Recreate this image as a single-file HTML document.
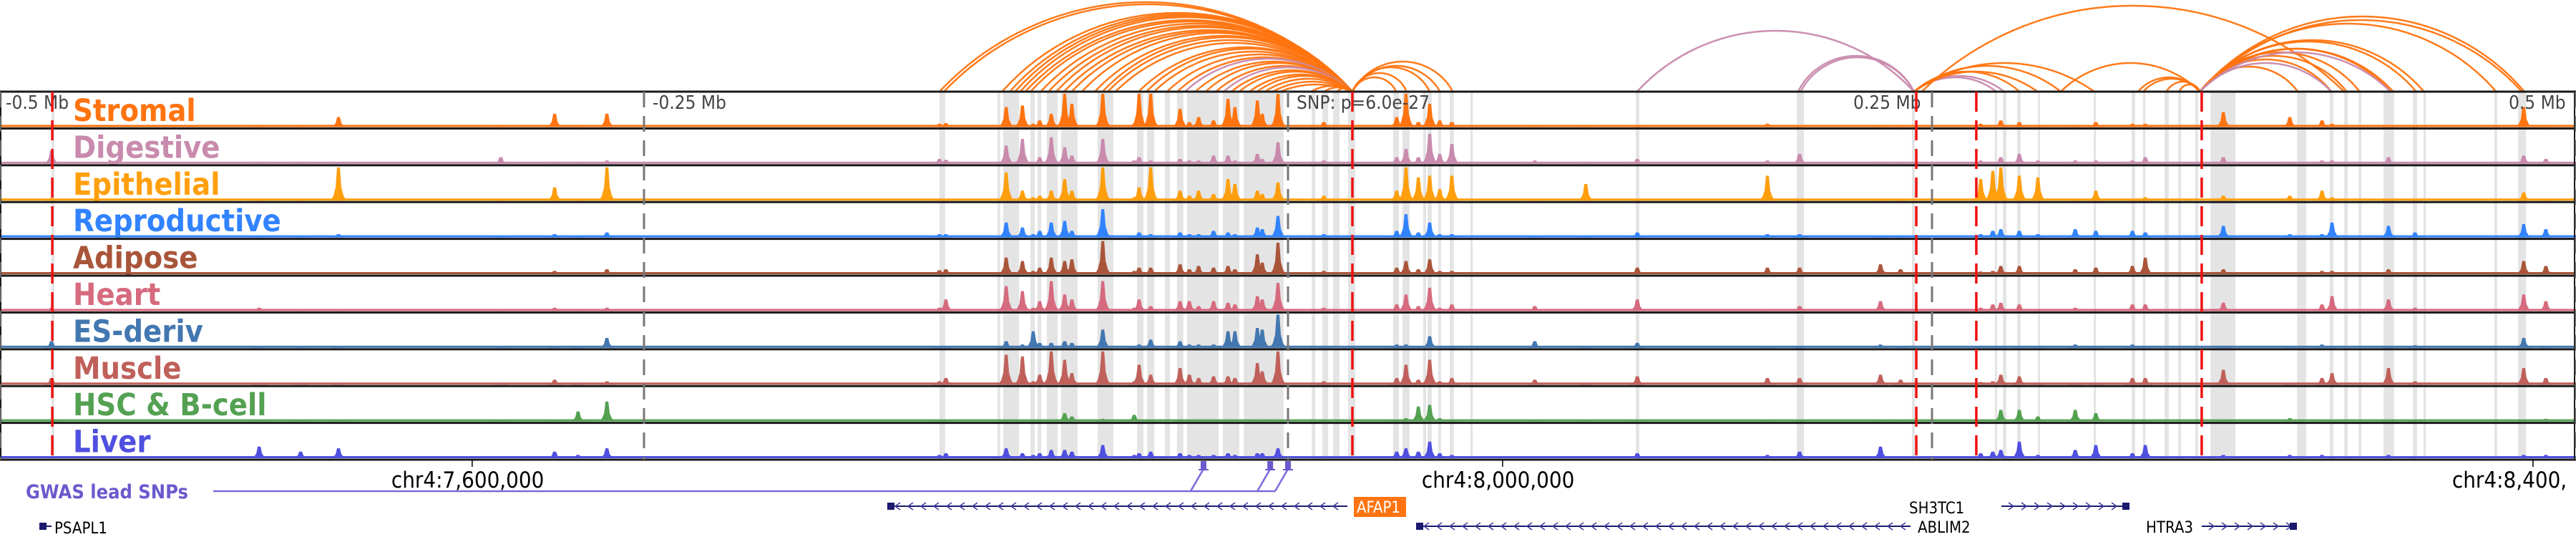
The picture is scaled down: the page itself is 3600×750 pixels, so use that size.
<!DOCTYPE html>
<html><head><meta charset="utf-8">
<style>
html,body{margin:0;padding:0;background:#fff;}
svg{display:block;}
text{font-family:"DejaVu Sans Condensed","DejaVu Sans","Liberation Sans",sans-serif;}
</style></head>
<body>
<svg id="chart" width="3600" height="750" viewBox="0 0 3600 750" xmlns="http://www.w3.org/2000/svg">
<g id="arcs"></g>
<g id="bands"></g>
<g id="tracks"></g>
<g id="overlay"></g>
<g id="bottom"></g>
</svg>
<script>
// ---- data ----
const trackNames = ["Stromal","Digestive","Epithelial","Reproductive","Adipose","Heart","ES-deriv","Muscle","HSC & B-cell","Liver"];
const trackColors = ["#ff7410","#c88aad","#ff9f0e","#3183ff","#a9553a","#d66a7e","#4377b0","#c0605a","#54a152","#4f4fe0"];
const peakKb = [-480,-399.4,-383.3,-368.6,-305.6,-284.7,-275.6,-264.4,-135.3,-132.8,-109.4,-103.1,-98.9,-96.4,-91.9,-86.7,-83.9,-71.9,-59.7,-57.8,-53.3,-41.9,-38.3,-34.7,-28.9,-23.3,-20.6,-11.9,-10.0,-3.9,13.9,42.2,45.8,50.6,55.0,58.9,63.6,95.8,115.6,135.6,186.1,198.6,230.0,237.8,268.9,273.6,276.7,283.9,291.1,305.6,313.6,327.8,332.8,363.1,388.9,401.4,405.3,427.2,437.5,479.7,488.3];
const peakHeights = [
[.05,.4,.08,.05,.05,.1,.2,.2,.03,.05],
[.05,.03,.05,.05,.05,.1,.05,.05,.03,.35],
[.03,.03,.03,.03,.03,.03,.03,.03,.03,.2],
[.3,.05,1,.1,.05,.03,.05,.03,.05,.3],
[.03,.2,.03,.03,.03,.03,.03,.03,.03,.05],
[.4,.05,.4,.1,.1,.1,.05,.15,.05,.2],
[.05,.03,.05,.03,.03,.03,.03,.03,.3,.1],
[.4,.1,1,.15,.15,.1,.3,.1,.6,.3],
[.1,.15,.05,.1,.12,.1,.05,.1,.03,.1],
[.12,.12,.05,.1,.15,.35,.05,.2,.03,.15],
[.6,.55,.85,.45,.5,.75,.2,.9,.05,.3],
[.65,.75,.3,.3,.4,.6,.1,.85,.05,.15],
[.1,.05,.1,.1,.1,.1,.5,.1,.03,.1],
[.2,.2,.15,.2,.2,.3,.15,.3,.03,.15],
[.4,.8,.3,.45,.5,.9,.15,1,.05,.25],
[1,.5,.65,.5,.4,.5,.2,.75,.25,.25],
[.7,.25,.3,.2,.45,.35,.15,.35,.15,.2],
[1,.75,1,.85,1,.9,.55,1,.08,.4],
[.1,.1,.1,.05,.1,.1,.05,.1,.2,.1],
[1,.2,.4,.15,.2,.35,.1,.6,.05,.15],
[1,.1,1,.1,.2,.15,.25,.3,.03,.2],
[.55,.15,.3,.15,.3,.3,.2,.5,.03,.15],
[.15,.1,.15,.1,.15,.3,.1,.3,.03,.1],
[.3,.1,.3,.1,.25,.15,.1,.2,.03,.1],
[.2,.25,.2,.2,.2,.3,.1,.25,.03,.1],
[.85,.25,.65,.15,.25,.25,.5,.25,.03,.15],
[.6,.1,.5,.1,.15,.2,.5,.2,.03,.1],
[.8,.3,.3,.3,.6,.45,.6,.65,.03,.15],
[.4,.15,.2,.25,.35,.35,.55,.4,.03,.15],
[1,.65,.55,.65,.95,.85,1,1,.05,.3],
[.15,.1,.15,.1,.1,.1,.05,.1,.03,.05],
[.3,.2,.3,.2,.2,.2,.1,.2,.05,.2],
[1,.45,1,.7,.4,.5,.1,.6,.1,.3],
[.15,.2,.7,.15,.15,.15,.05,.15,.45,.2],
[.7,.9,.75,.45,.45,.7,.35,.75,.5,.5],
[.2,.3,.35,.1,.1,.1,.05,.1,.1,.15],
[.15,.6,.75,.1,.1,.2,.05,.2,.03,.1],
[.03,.1,.03,.03,.03,.15,.2,.15,.03,.05],
[.03,.03,.5,.03,.03,.03,.03,.03,.03,.03],
[.05,.15,.03,.15,.2,.35,.15,.25,.03,.15],
[.1,.1,.75,.1,.2,.05,.03,.2,.03,.1],
[.03,.3,.03,.1,.2,.15,.05,.2,.03,.2],
[.03,.05,.03,.05,.3,.3,.1,.3,.03,.35],
[.03,.03,.03,.03,.15,.03,.03,.15,.03,.05],
[.1,.1,.65,.1,.08,.1,.03,.08,.03,.15],
[.05,.05,.9,.2,.1,.2,.03,.1,.03,.2],
[.2,.2,1,.25,.25,.25,.05,.3,.35,.25],
[.15,.3,.75,.2,.25,.2,.05,.25,.35,.5],
[.05,.1,.7,.1,.05,.05,.03,.05,.15,.1],
[.05,.1,.05,.25,.15,.1,.1,.05,.35,.25],
[.15,.1,.3,.2,.2,.05,.05,.05,.25,.4],
[.1,.1,.05,.2,.25,.2,.1,.2,.05,.15],
[.1,.2,.1,.15,.5,.2,.05,.2,.05,.4],
[.45,.2,.15,.35,.15,.25,.05,.45,.05,.1],
[.3,.05,.15,.1,.05,.05,.03,.05,.1,.1],
[.2,.1,.3,.1,.1,.2,.1,.2,.05,.1],
[.1,.1,.1,.45,.1,.45,.03,.35,.03,.05],
[.05,.2,.05,.35,.15,.35,.03,.5,.03,.1],
[.03,.03,.03,.15,.05,.1,.08,.1,.03,.05],
[.6,.25,.25,.4,.4,.5,.3,.5,.05,.1],
[.05,.15,.05,.25,.25,.3,.03,.2,.08,.1]
];
const bandStartKb = [-480,-135.3,-112.8,-110.6,-100,-97.2,-93.6,-88.1,-73.9,-58.6,-54.7,-47.8,-43.1,-39.2,-25.3,-17.2,9.2,13.3,17.5,23.3,40.8,44.4,52.5,54.2,58.3,62.8,70.8,135,197.5,242.2,274.4,277.5,283.1,291.1,312.8,327.5,331.9,340.3,345.6,352.2,358.1,391.7,404.4,410,415.6,425.3,436.7,440.8,468.3,477.5];
const bandEndKb = [-478.9,-133.1,-111.7,-104.4,-98.3,-95.8,-89.4,-81.7,-67.8,-56.1,-51.9,-45.8,-40.6,-26.9,-18.9,-1.7,10.6,15.6,20,26.1,43.1,47.2,53.6,55.8,59.4,64.4,71.7,136.4,200.3,243.3,275.3,278.9,284.4,291.7,313.6,328.9,332.8,341.9,346.7,353.3,367.8,395.3,405.8,411.4,416.7,429.4,438.3,441.7,469.4,480.6];
// arcs: left kb, right kb, height px, tissue (0 stromal, 1 digestive)
const arcLeftKb  = [-135.3,-133.6,-111,-108,-106,-104,-102,-100,-96,-93,-90,-87,-84,-80,-75,-72,-70,-67,-58,-55,-52,-47,-43,-40,-36,-32,-28,-25,-22,-19,-15,-12,-9,-6,-3,9,14,19,25,25,25,25,25,135.5,198,199,243,243,243,243,243,243,246,300,330,332,341,346,354,354,354,354,354,354,354,354,354,354,354,354,354];
const arcRightKb = [25,25,25,25,25,25,25,25,25,25,25,25,25,25,25,25,25,25,25,25,25,25,25,25,25,25,25,25,25,25,25,25,25,25,25,25,25,25,42,46,55,59,64,243,243,243,275,278,284,291,313,300,410,354,354,354,354,354,392,405,411,416,428,429,438,441,469,479,480,405,428];
const arcHeight  = [125,122,110,108,106,104,100,98,95,92,90,86,84,82,78,76,72,68,62,60,56,52,48,46,42,40,36,34,30,28,24,22,18,14,10,8,6,5,20,26,34,36,42,85,50,48,20,22,28,28,40,36,120,40,20,18,14,10,35,45,50,55,60,60,70,72,95,100,105,40,55];
const arcTissue  = [0,0,0,0,0,0,0,0,0,0,0,0,0,0,0,0,0,0,0,0,0,0,0,1,0,0,0,1,0,0,0,0,0,0,0,0,0,0,0,0,0,0,0,1,1,1,1,1,0,0,0,0,0,0,0,0,0,0,0,0,0,0,0,0,0,0,0,0,0,1,1];
const axisTickKb = [-500,-250,250,500];
const axisTickLabels = ["-0.5 Mb","-0.25 Mb","0.25 Mb","0.5 Mb"];
const redLineKb = [-479.7,25,243.9,267.2,354.7];
const gwasKb = [-32.8,-6.9,0];
const chrTickKb = [-316.7,83.3,483.3];
const chrTickLabels = ["chr4:7,600,000","chr4:8,000,000","chr4:8,400,"];

// ---- scales ----
const PX_PER_KB = 3.6, X0 = 1800;
function xs(kb){ return X0 + kb*PX_PER_KB; }
const TOP = 128, TH = 51.4;
function trackTop(i){ return TOP + i*TH; }
const NS = "http://www.w3.org/2000/svg";
function mk(tag, attrs, parent){
  const e = document.createElementNS(NS, tag);
  for (const k in attrs) e.setAttribute(k, attrs[k]);
  parent.appendChild(e); return e;
}
const gArcs = document.getElementById('arcs');
const gBands = document.getElementById('bands');
const gTracks = document.getElementById('tracks');
const gOver = document.getElementById('overlay');
const gBot = document.getElementById('bottom');
const BOTTOM = trackTop(10);

// arcs (circular segments)
for (let i=0;i<arcLeftKb.length;i++){
  const x1 = xs(arcLeftKb[i]), x2 = xs(arcRightKb[i]);
  const s = Math.abs(x2-x1), h = arcHeight[i];
  const r = (s*s/4 + h*h)/(2*h);
  const p = mk('path',{d:`M${x1},${TOP} A${r},${r} 0 0 1 ${x2},${TOP}`,fill:'none',stroke:arcTissue[i]?'#c88aad':'#ff7410','stroke-width':2.5,opacity:0.95},gArcs);
  
  
}

// bands
for (let i=0;i<bandStartKb.length;i++){
  const a = xs(bandStartKb[i]), b = xs(bandEndKb[i]);
  const r = mk('rect',{x:a,y:TOP,width:Math.max(3,b-a),height:BOTTOM-TOP,fill:'#e4e4e4'},gBands);
  
  
}

// tracks
for (let t=0;t<trackNames.length;t++){
  const top = trackTop(t), base = top + TH - 2;
  const g = mk('g',{},gTracks);
  
  
  mk('rect',{x:0,y:base-3,width:3600,height:3,fill:trackColors[t]},g);
  let d = '';
  for (let p=0;p<peakKb.length;p++){
    const x = xs(peakKb[p]);
    const h = peakHeights[p][t]*(TH-5);
    d += `M${x-11},${base} L${x-7},${base-h*0.15} L${x-4},${base-h*0.4} L${x-2},${base-h} L${x+2},${base-h} L${x+4},${base-h*0.4} L${x+7},${base-h*0.15} L${x+11},${base} Z `;
  }
  const path = mk('path',{d:d,fill:trackColors[t]},g);
  
  
  const lab = mk('text',{x:102,y:top+41,'font-size':43,'font-weight':'bold',fill:trackColors[t]},g);
  lab.textContent = trackNames[t];
  
  
}
for (let i=0;i<=10;i++){
  const l = mk('rect',{x:0,y:trackTop(i)-1.5,width:3600,height:3,fill:'#1a1a1a'},gOver);
  
  
}
mk('rect',{x:0,y:TOP,width:2,height:BOTTOM-TOP,fill:'#1a1a1a'},gOver);
mk('rect',{x:3597,y:TOP,width:2,height:BOTTOM-TOP,fill:'#1a1a1a'},gOver);

// axis ticks
for (let i=0;i<axisTickKb.length;i++){
  const x = xs(axisTickKb[i]);
  const l = mk('line',{x1:x,y1:TOP,x2:x,y2:BOTTOM,stroke:'#777','stroke-width':3,'stroke-dasharray':'22 12'},gOver);
  
  
  let lx = x+12;
  if (i===0) lx = 8; else if (i===2) lx = x-110; else if (i===3) lx = 3506;
  const tx = mk('text',{x:lx,y:152,'font-size':26,fill:'#444'},gOver);
  tx.textContent = axisTickLabels[i];
  
  
}
mk('line',{x1:xs(0),y1:TOP,x2:xs(0),y2:BOTTOM,stroke:'#777','stroke-width':3,'stroke-dasharray':'22 12'},gOver);
for (let i=0;i<redLineKb.length;i++){
  const x = xs(redLineKb[i]);
  const l = mk('line',{x1:x,y1:TOP,x2:x,y2:BOTTOM,stroke:'#ee1111','stroke-width':3.5,'stroke-dasharray':'28 12'},gOver);
  
  
}
const snpT = mk('text',{x:1812,y:152,'font-size':26,fill:'#444'},gOver);
snpT.textContent = 'SNP: p=6.0e-27';



// chr ticks
for (let i=0;i<chrTickKb.length;i++){
  const x = xs(chrTickKb[i]);
  mk('line',{x1:x,y1:BOTTOM,x2:x,y2:BOTTOM+10,stroke:'#000','stroke-width':1.5},gBot);
  const t = mk('text',{x:x-113,y:681,'font-size':31,fill:'#000'},gBot);
  t.textContent = chrTickLabels[i];
  
  
}

// GWAS
const gw = mk('text',{x:36,y:696,'font-size':27,'font-weight':'bold',fill:'#6a5acd'},gBot);
gw.textContent = 'GWAS lead SNPs';


mk('line',{x1:298,y1:686,x2:xs(gwasKb[2])-18,y2:686,stroke:'#7a6ad8','stroke-width':2.5},gBot);
for (let i=0;i<gwasKb.length;i++){
  const x = xs(gwasKb[i]);
  mk('line',{x1:x-18,y1:686,x2:x,y2:655,stroke:'#7a6ad8','stroke-width':2.5},gBot);
  const r = mk('rect',{x:x-4,y:644,width:8,height:12,fill:'#6a5acd'},gBot);
  
  
  mk('rect',{x:x-7,y:655,width:14,height:2,fill:'#6a5acd'},gBot);
}

// genes
function gene(name,x1,x2,y,dir,labelX,labelY,hl){
  const g = mk('g',{},gBot);
  
  
  mk('line',{x1:x1,y1:y,x2:x2,y2:y,stroke:'#1a1a6e','stroke-width':2},g);
  for (let x=x1+14;x<x2-6;x+=18){
    const d = dir<0 ? `M${x+4},${y-5} L${x-3},${y} L${x+4},${y+5}` : `M${x-4},${y-5} L${x+3},${y} L${x-4},${y+5}`;
    mk('path',{d:d,fill:'none',stroke:'#3a3a9e','stroke-width':1.5},g);
  }
  mk('rect',{x:dir<0?x1:x2-10,y:y-5,width:10,height:10,fill:'#1a1a6e'},g);
  if (hl){
    mk('rect',{x:labelX-4,y:labelY-22,width:name.length*13+8,height:28,fill:'#ff7410'},g);
  }
  const t = mk('text',{x:labelX,y:labelY,'font-size':22,fill:hl?'#fff':'#000'},g);
  t.textContent = name;
}
gene('PSAPL1',55,72,735,-1,76,745,false);
gene('AFAP1',1240,1883,707,-1,1896,716,true);
gene('SH3TC1',2797,2976,707,1,2668,717,false);
gene('ABLIM2',1979,2670,735,-1,2680,744,false);
gene('HTRA3',3077,3210,735,1,2999,744,false);
</script>
</body></html>
